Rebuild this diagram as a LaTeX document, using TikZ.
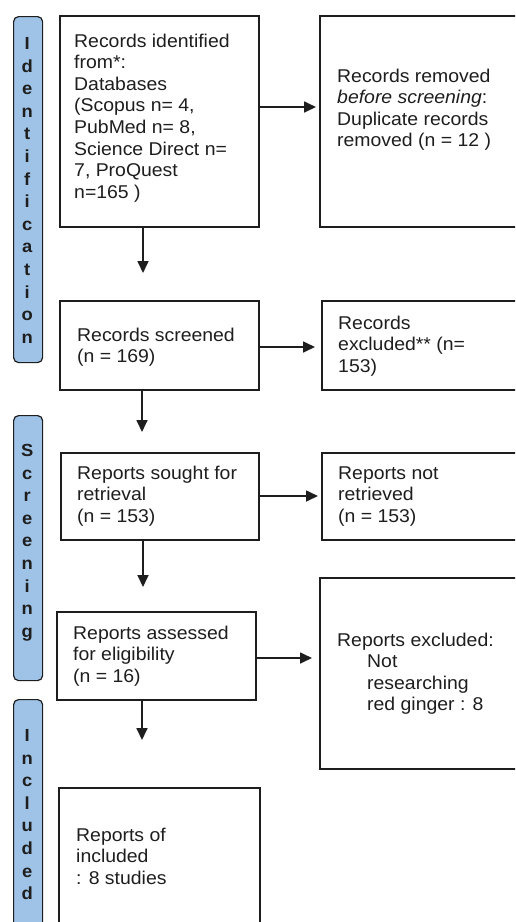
\documentclass[tikz,border=0pt]{standalone}
\usepackage{fontspec}
\setmainfont[FakeStretch=1.05]{Liberation Sans}
\usetikzlibrary{arrows.meta,calc}
\definecolor{barblue}{HTML}{9FC3E7}
\definecolor{ink}{HTML}{1E1E1E}
\newcommand{\boxtext}[1]{\parbox[t]{300pt}{\raggedright #1}}
\newcommand{\bartext}[1]{\parbox[t]{30pt}{\centering #1}}
\begin{document}
\begin{tikzpicture}[x=1pt,y=-1pt,
  box/.style={draw=ink, line width=1.6pt, fill=white, inner sep=0pt, anchor=north west},
  txt/.style={inner sep=0pt, anchor=base west, font=\fontsize{18.5}{21.6}\selectfont, text=ink},
  bar/.style={draw=ink, line width=1.2pt, fill=barblue, rounded corners=5pt, inner sep=0pt, anchor=north west, minimum width=29pt},
  barlbl/.style={inner sep=0pt, anchor=base, font=\fontsize{17.5}{22.6}\bfseries\selectfont, text=ink},
  arr/.style={draw=ink, line width=1.7pt, -{Triangle[length=12pt,width=11pt]}}]
\useasboundingbox (0,0) rectangle (515,922);
\clip (0,0) rectangle (515,922);
% phase bars
\node[bar, minimum height=346pt] (barI) at (13,16) {};
\node[bar, minimum height=265pt] (barS) at (13,415) {};
\node[bar, minimum height=260pt] (barN) at (13,699) {};
\node[barlbl] (lblI) at (27.3,49.5) {\bartext{I\\d\\e\\n\\t\\i\\f\\i\\c\\a\\t\\i\\o\\n}};
\node[barlbl] (lblS) at (27.3,456.5) {\bartext{S\\c\\r\\e\\e\\n\\i\\n\\g}};
\node[barlbl] (lblN) at (27.3,741.5) {\bartext{I\\n\\c\\l\\u\\d\\e\\d}};
% boxes
\node[box, minimum width=199pt, minimum height=211pt] (b1) at (59,15) {};
\node[box, minimum width=220pt, minimum height=211pt] (b2) at (319,15) {};
\node[box, minimum width=199pt, minimum height=89pt] (b3) at (59,300) {};
\node[box, minimum width=220pt, minimum height=89pt] (b4) at (321,300) {};
\node[box, minimum width=198pt, minimum height=87pt] (b5) at (60,452) {};
\node[box, minimum width=220pt, minimum height=87pt] (b6) at (321,452) {};
\node[box, minimum width=199pt, minimum height=88pt] (b7) at (56,611) {};
\node[box, minimum width=220pt, minimum height=191pt] (b8) at (319,577) {};
\node[box, minimum width=201pt, minimum height=200pt] (b9) at (58,787) {};
% texts
\node[txt] (t1) at (74,47) {\boxtext{Records identified\\from*:\\Databases\\(Scopus n= 4,\\PubMed n= 8,\\Science Direct n=\\7, ProQuest\\n=165 )}};
\node[txt] (t2) at (337,82) {\boxtext{Records removed\\\textit{before screening}:\\Duplicate records\\removed (n = 12 )}};
\node[txt] (t3) at (77,341) {\boxtext{Records screened\\(n = 169)}};
\node[txt] (t4) at (338,329) {\boxtext{Records\\excluded** (n=\\153)}};
\node[txt] (t5) at (77,479) {\boxtext{Reports sought for\\retrieval\\(n = 153)}};
\node[txt] (t6) at (338,479) {\boxtext{Reports not\\retrieved\\(n = 153)}};
\node[txt] (t7) at (73,639) {\boxtext{Reports assessed\\for eligibility\\(n = 16)}};
\node[txt] (t8) at (337,646) {\boxtext{Reports excluded:\\\hspace*{30pt}Not\\\hspace*{30pt}researching\\\hspace*{30pt}red ginger : 8}};
\node[txt] (t9) at (76,841) {\boxtext{Reports of\\included\\: 8 studies}};
% connectors
\coordinate (ax) at (143,0);
\coordinate (bx) at (142,0);
\path (b1.north east) ++(0,92) coordinate (h1);
\path (b3.north east) ++(0,47) coordinate (h3);
\path (b5.north east) ++(0,44) coordinate (h5);
\path (b7.north east) ++(0,47) coordinate (h7);
\draw[arr, shorten >=3pt] (h1) -- (h1 -| b2.west);
\draw[arr, shorten >=6pt] (h3) -- (h3 -| b4.west);
\draw[arr, shorten >=3pt] (h5) -- (h5 -| b6.west);
\draw[arr, shorten >=7pt] (h7) -- (h7 -| b8.west);
\draw[arr, shorten >=27pt] (b1.south -| ax) -- (b3.north -| ax);
\draw[arr, shorten >=20pt] (b3.south -| bx) -- (b5.north -| bx);
\draw[arr, shorten >=24pt] (b5.south -| ax) -- (b7.north -| ax);
\draw[arr, shorten >=47pt] (b7.south -| bx) -- (b9.north -| bx);
\end{tikzpicture}
\end{document}
